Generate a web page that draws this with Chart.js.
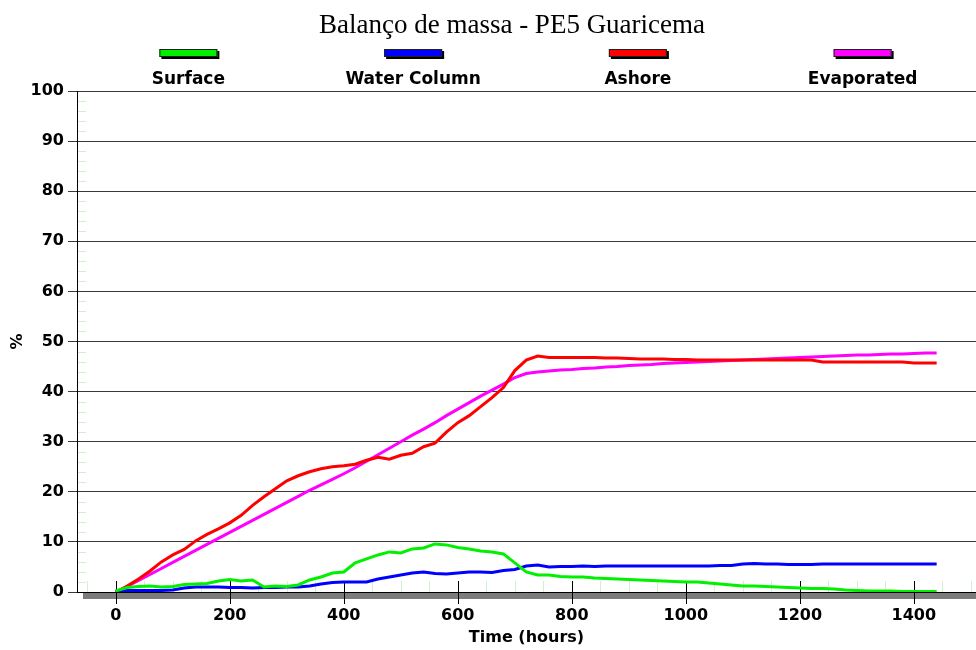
<!DOCTYPE html>
<html>
<head>
<meta charset="utf-8">
<title>Balanço de massa - PE5 Guaricema</title>
<script src="https://cdn.jsdelivr.net/npm/chart.js@4.4.1/dist/chart.umd.min.js"></script>
<style>
  html, body { margin: 0; padding: 0; background: #fff; }
  #wrap { width: 976px; height: 650px; }
</style>
</head>
<body>
<div id="wrap"><canvas id="massChart" width="976" height="650"></canvas></div>
<script>
// time axis (hours), shared by all series
const hours = [0, 20, 40, 60, 80, 100, 120, 140, 160, 180, 200, 220, 240, 260, 280, 300, 320, 340, 360, 380,
  400, 420, 440, 460, 480, 500, 520, 540, 560, 580, 600, 620, 640, 660, 680, 700, 720, 740, 760, 780,
  800, 820, 840, 860, 880, 900, 920, 940, 960, 980, 1000, 1020, 1040, 1060, 1080, 1100, 1120, 1140, 1160, 1180,
  1200, 1220, 1240, 1260, 1280, 1300, 1320, 1340, 1360, 1380, 1400, 1420, 1440];

const surface = [0.2, 0.9, 1.1, 1.2, 1.0, 1.1, 1.5, 1.6, 1.7, 2.2, 2.5, 2.2, 2.4, 1.0, 1.2, 1.1, 1.4, 2.4, 3.0, 3.8,
  4.0, 5.8, 6.6, 7.4, 8.0, 7.8, 8.6, 8.8, 9.6, 9.4, 8.9, 8.6, 8.2, 8.0, 7.6, 5.8, 4.0, 3.4, 3.4, 3.1,
  3.0, 3.0, 2.8, 2.7, 2.6, 2.5, 2.4, 2.3, 2.2, 2.1, 2.0, 2.0, 1.8, 1.6, 1.4, 1.2, 1.2, 1.1, 1.0, 0.9,
  0.8, 0.7, 0.7, 0.6, 0.4, 0.3, 0.2, 0.2, 0.2, 0.1, 0.1, 0.1, 0.1];

const waterColumn = [0.2, 0.3, 0.3, 0.3, 0.3, 0.4, 0.8, 1.0, 1.0, 1.0, 0.9, 0.9, 0.8, 0.9, 0.9, 1.0, 1.0, 1.2, 1.6, 1.9,
  2.0, 2.0, 2.0, 2.6, 3.0, 3.4, 3.8, 4.0, 3.7, 3.6, 3.8, 4.0, 4.0, 3.9, 4.3, 4.5, 5.2, 5.4, 5.0, 5.1,
  5.1, 5.2, 5.1, 5.2, 5.2, 5.2, 5.2, 5.2, 5.2, 5.2, 5.2, 5.2, 5.2, 5.3, 5.3, 5.6, 5.7, 5.6, 5.6, 5.5,
  5.5, 5.5, 5.6, 5.6, 5.6, 5.6, 5.6, 5.6, 5.6, 5.6, 5.6, 5.6, 5.6];

const ashore = [0.0, 1.2, 2.6, 4.2, 6.0, 7.4, 8.5, 10.2, 11.5, 12.6, 13.8, 15.3, 17.3, 19.0, 20.6, 22.2, 23.2, 24.0, 24.6, 25.0,
  25.2, 25.5, 26.3, 26.9, 26.5, 27.3, 27.7, 29.0, 29.7, 31.9, 33.8, 35.2, 37.0, 38.8, 40.8, 44.2, 46.3, 47.1, 46.8, 46.8,
  46.8, 46.8, 46.8, 46.7, 46.7, 46.6, 46.5, 46.5, 46.5, 46.4, 46.4, 46.3, 46.3, 46.3, 46.3, 46.3, 46.3, 46.3, 46.3, 46.3,
  46.3, 46.3, 45.9, 45.9, 45.9, 45.9, 45.9, 45.9, 45.9, 45.9, 45.7, 45.7, 45.7];

const evaporated = [0.0, 1.1, 2.3, 3.5, 4.7, 5.9, 7.1, 8.3, 9.5, 10.7, 11.9, 13.1, 14.3, 15.5, 16.7, 17.9, 19.1, 20.3, 21.4, 22.5,
  23.6, 24.8, 26.1, 27.4, 28.7, 30.0, 31.3, 32.5, 33.8, 35.2, 36.5, 37.8, 39.1, 40.3, 41.5, 42.8, 43.6, 43.9, 44.1, 44.3,
  44.4, 44.6, 44.7, 44.9, 45.0, 45.2, 45.3, 45.4, 45.6, 45.7, 45.8, 45.9, 46.0, 46.1, 46.2, 46.3, 46.4, 46.5, 46.6, 46.7,
  46.8, 46.9, 47.0, 47.1, 47.2, 47.3, 47.3, 47.4, 47.5, 47.5, 47.6, 47.7, 47.7];

const seriesNames = ['Surface', 'Water Column', 'Ashore', 'Evaporated'];
const seriesColors = ['#00f000', '#0000ff', '#ff0000', '#ff00ff'];
const xTicks = [0, 200, 400, 600, 800, 1000, 1200, 1400];

const toPoints = (vals) => hours.map((h, i) => ({ x: h, y: vals[i] }));

// title, legend, minor ticks and the grey base band
const decor = {
  id: 'decor',
  beforeDraw(chart) {
    const ctx = chart.ctx;
    ctx.save();
    ctx.fillStyle = '#ffffff';
    ctx.fillRect(0, 0, chart.width, chart.height);
    ctx.restore();
  },
  beforeDatasetsDraw(chart) {
    const { ctx, chartArea: a, scales: { x, y } } = chart;
    ctx.save();
    ctx.lineWidth = 1;
    ctx.strokeStyle = '#d2efd2';
    // minor y ticks
    for (let v = 2; v < 100; v += 2) {
      if (v % 10 === 0) continue;
      const py = Math.round(y.getPixelForValue(v)) + 0.5;
      ctx.beginPath();
      ctx.moveTo(a.left + 1, py);
      ctx.lineTo(a.left + 9, py);
      ctx.stroke();
    }
    // minor x ticks
    for (let h = -50; h < x.max; h += 50) {
      if (h % 200 === 0) continue;
      const px = Math.round(x.getPixelForValue(h)) + 0.5;
      ctx.beginPath();
      ctx.moveTo(px, a.bottom - 11);
      ctx.lineTo(px, a.bottom);
      ctx.stroke();
    }
    // grey band under the axis
    ctx.fillStyle = '#7c7c7c';
    ctx.fillRect(a.left + 6, a.bottom + 1, a.right - a.left - 6, 6);
    ctx.strokeStyle = '#000';
    ctx.beginPath();
    ctx.moveTo(a.left, a.bottom + 0.5);
    ctx.lineTo(a.right, a.bottom + 0.5);
    ctx.stroke();
    // major x ticks
    xTicks.forEach((h) => {
      const px = Math.round(x.getPixelForValue(h)) + 0.5;
      ctx.beginPath();
      ctx.moveTo(px, a.bottom - 11);
      ctx.lineTo(px, a.bottom + 12);
      ctx.stroke();
    });
    ctx.restore();
  },
  afterDraw(chart) {
    const { ctx, chartArea: a } = chart;
    ctx.save();
    ctx.fillStyle = '#000';
    ctx.textAlign = 'center';
    ctx.textBaseline = 'alphabetic';
    ctx.font = '27px "Liberation Serif", "Times New Roman", serif';
    ctx.fillText('Balanço de massa - PE5 Guaricema', 512, 33);

    const colW = (a.right - a.left) / seriesNames.length;
    seriesNames.forEach((name, i) => {
      const cx = a.left + colW * (i + 0.5) - 1;
      // swatch with shadow
      ctx.fillStyle = '#000';
      ctx.fillRect(cx - 27, 51, 58, 8);
      ctx.fillStyle = seriesColors[i];
      ctx.fillRect(cx - 29, 49, 58, 8);
      ctx.strokeStyle = '#202020';
      ctx.lineWidth = 1;
      ctx.strokeRect(cx - 28.5, 49.5, 57, 7);
      ctx.fillStyle = '#000';
      ctx.font = 'bold 17px "DejaVu Sans", sans-serif';
      ctx.fillText(name, cx, 84);
    });
    ctx.restore();
  }
};

new Chart(document.getElementById('massChart').getContext('2d'), {
  type: 'line',
  data: {
    datasets: [
      { label: seriesNames[0], data: toPoints(surface), borderColor: seriesColors[0] },
      { label: seriesNames[1], data: toPoints(waterColumn), borderColor: seriesColors[1] },
      { label: seriesNames[2], data: toPoints(ashore), borderColor: seriesColors[2] },
      { label: seriesNames[3], data: toPoints(evaporated), borderColor: seriesColors[3] }
    ]
  },
  options: {
    responsive: false,
    animation: false,
    devicePixelRatio: 1,
    layout: { padding: { top: 91, left: 0, right: 0, bottom: 0 } },
    elements: {
      point: { radius: 0 },
      line: { borderWidth: 3, tension: 0, fill: false }
    },
    plugins: {
      legend: { display: false },
      title: { display: false },
      tooltip: { enabled: false }
    },
    scales: {
      x: {
        type: 'linear',
        min: -68,
        max: 1509,
        afterBuildTicks: (scale) => { scale.ticks = xTicks.map((v) => ({ value: v })); },
        afterFit: (scale) => { scale.height = 58; },
        grid: { display: false, drawTicks: false },
        border: { display: false },
        ticks: {
          padding: 14,
          color: '#000',
          callback: (v) => String(v),
          font: { family: 'DejaVu Sans', size: 16, weight: 'bold' }
        },
        title: {
          display: true,
          text: 'Time (hours)',
          color: '#000',
          padding: { top: 0, bottom: 3 },
          font: { family: 'DejaVu Sans', size: 16, weight: 'bold' }
        }
      },
      y: {
        min: 0,
        max: 100,
        afterFit: (scale) => { scale.width = 77; },
        ticks: {
          stepSize: 10,
          padding: 4,
          color: '#000',
          font: { family: 'DejaVu Sans', size: 16, weight: 'bold' }
        },
        grid: { color: '#3a3a3a', lineWidth: 1, tickLength: 9 },
        border: { display: true, color: '#000', width: 1 },
        title: {
          display: true,
          text: '%',
          color: '#000',
          padding: { top: 8, bottom: 0 },
          font: { family: 'DejaVu Sans', size: 16, weight: 'bold' }
        }
      }
    }
  },
  plugins: [decor]
});
</script>
</body>
</html>
